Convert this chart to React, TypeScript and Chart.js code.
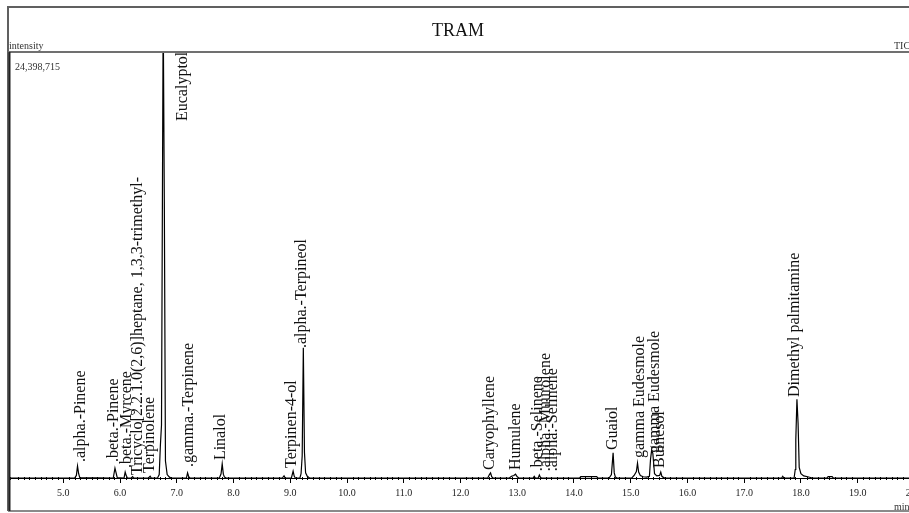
import React, { useEffect, useRef } from "react";
import { Chart, registerables } from "chart.js";

Chart.register(...registerables);

// ---- data (retention time in min, intensity in % of full scale) ----
const chartTitle = "TRAM";
const yAxisName = "intensity";
const traceName = "TIC";
const xUnit = "min";
const fullScaleLabel = "24,398,715";
const xMin = 4.06;
const xMax = 20.24;
const xStep = 0.1;

const retentionTimes = [
  4.06, 5.2, 5.23, 5.25, 5.27, 5.29, 5.88, 5.91, 5.93, 5.95, 6.07, 6.09, 6.11, 6.13, 6.2, 6.22, 6.24,
  6.5, 6.53, 6.55, 6.66, 6.69, 6.71, 6.73, 6.76, 6.78, 6.8, 6.83, 6.87, 6.9, 7.17, 7.19, 7.21, 7.23,
  7.75, 7.78, 7.8, 7.82, 7.84, 7.87, 8.86, 8.89, 8.91, 9.02, 9.05, 9.07, 9.09, 9.17, 9.19, 9.21, 9.23,
  9.25, 9.27, 9.3, 9.34, 12.48, 12.51, 12.53, 12.55, 12.57, 12.86, 12.9, 12.94, 12.97, 13.0, 13.03,
  13.28, 13.3, 13.32, 13.37, 13.39, 13.41, 13.44, 14.1, 14.12, 14.4, 14.42, 14.62, 14.66, 14.69, 14.71,
  14.73, 14.76, 15.02, 15.06, 15.1, 15.12, 15.14, 15.17, 15.22, 15.28, 15.33, 15.35, 15.37, 15.39,
  15.42, 15.46, 15.51, 15.53, 15.55, 15.58, 15.62, 17.66, 17.68, 17.7, 17.88, 17.9, 17.91, 17.93,
  17.95, 17.97, 18.0, 18.05, 18.12, 18.2, 18.46, 18.48, 18.55, 18.57, 20.24,
];
const intensities = [
  0, 0, 0.6, 2.8, 1.0, 0.1, 0, 2.3, 1.2, 0.1, 0, 1.4, 0.5, 0, 0, 0.3, 0,
  0, 0.4, 0, 0, 0.8, 7.5, 12.4, 110, 64.8, 4.0, 0.8, 0.2, 0, 0, 1.2, 0.3, 0,
  0, 1.0, 3.3, 0.9, 0.2, 0, 0, 0.5, 0, 0, 1.6, 0.4, 0, 0, 1.0, 5.2, 30.6,
  6.0, 1.2, 0.4, 0, 0, 0.8, 1.2, 0.3, 0, 0, 0.4, 0.6, 0.9, 0.3, 0,
  0, 0.4, 0, 0, 0.7, 0.1, 0, 0, 0.3, 0.3, 0, 0, 0.8, 5.9, 1.2,
  0.2, 0, 0, 0.6, 1.5, 3.5, 1.4, 0.6, 0.3, 0.2, 0.4, 4.5, 6.6, 5.8,
  1.0, 0.5, 0.6, 1.4, 0.4, 0.1, 0, 0, 0.4, 0, 0, 2.0, 9.0, 18.5,
  12.9, 2.5, 1.0, 0.5, 0.3, 0, 0, 0.3, 0.3, 0, 0,
];

// peak annotations: name, time of text centre line, intensity where the text starts
const peakNames = [
  ".alpha.-Pinene",
  ".beta.-Pinene",
  ".beta.-Myrcene",
  "Tricyclo[2.2.1.0(2,6)]heptane, 1,3,3-trimethyl-",
  "Terpinolene",
  "Eucalyptol",
  ".gamma.-Terpinene",
  "Linalol",
  "Terpinen-4-ol",
  ".alpha.-Terpineol",
  "Caryophyllene",
  "Humulene",
  ".beta.-Selinene",
  ".alpha.-Muurolene",
  ".alpha.-Selinene",
  "Guaiol",
  "gamma Eudesmole",
  "gamma Eudesmole",
  "Bulnesol",
  "Dimethyl palmitamine",
];
const labelTimes = [
  5.303, 5.893, 6.122, 6.307, 6.528, 7.109, 7.215, 7.78, 9.021, 9.197, 12.52, 12.968, 13.357,
  13.5, 13.632, 14.68, 15.153, 15.426, 15.515, 17.89,
];
const labelBases = [
  3.76, 3.76, 2.35, 0.7, 1.17, 83.8, 2.58, 4.2, 2.35, 30.5, 1.88, 1.88, 1.6, 1.6, 1.6, 6.57, 4.69,
  5.87, 2.35, 19.0,
];

const isMajor = (v: number) => Math.abs(v - Math.round(v)) < 0.001;

export default function App() {
  const ref = useRef<HTMLCanvasElement | null>(null);

  useEffect(() => {
    if (!ref.current) return;

    const labelPlugin = {
      id: "peakLabels",
      afterDatasetsDraw(chart: any) {
        const { ctx } = chart;
        const xs = chart.scales.x;
        const ys = chart.scales.y;
        ctx.save();
        ctx.fillStyle = "#111";
        ctx.font = "16px 'Liberation Serif'";
        ctx.textAlign = "left";
        ctx.textBaseline = "middle";
        peakNames.forEach((name, i) => {
          const x = xs.getPixelForValue(labelTimes[i]);
          const y = ys.getPixelForValue(labelBases[i]);
          ctx.save();
          ctx.translate(x, y);
          ctx.rotate(-Math.PI / 2);
          ctx.fillText(name, 0, 0);
          ctx.restore();
        });
        ctx.restore();
      },
    };

    const framePlugin = {
      id: "frame",
      afterDraw(chart: any) {
        const { ctx, chartArea, width, height } = chart;
        const xs = chart.scales.x;
        ctx.save();
        // minor ticks
        ctx.strokeStyle = "#000";
        ctx.lineWidth = 1;
        xs.ticks.forEach((t: any) => {
          if (isMajor(t.value)) return;
          const px = Math.round(xs.getPixelForValue(t.value)) + 0.5;
          ctx.beginPath();
          ctx.moveTo(px, chartArea.bottom - 1);
          ctx.lineTo(px, chartArea.bottom + 2);
          ctx.stroke();
        });
        // frame lines
        ctx.strokeStyle = "#606060";
        ctx.lineWidth = 2;
        ctx.beginPath();
        ctx.moveTo(7, 7);
        ctx.lineTo(width, 7);
        ctx.moveTo(8, 6);
        ctx.lineTo(8, height - 2);
        ctx.stroke();
        ctx.strokeStyle = "#707070";
        ctx.beginPath();
        ctx.moveTo(8, chartArea.top);
        ctx.lineTo(width, chartArea.top);
        ctx.stroke();
        ctx.strokeStyle = "#8a8a8a";
        ctx.beginPath();
        ctx.moveTo(8, height - 2);
        ctx.lineTo(width, height - 2);
        ctx.stroke();
        ctx.strokeStyle = "#222";
        ctx.lineWidth = 2;
        ctx.beginPath();
        ctx.moveTo(chartArea.left - 0.5, chartArea.top);
        ctx.lineTo(chartArea.left - 0.5, height - 2);
        ctx.stroke();
        // texts
        ctx.fillStyle = "#111";
        ctx.textBaseline = "alphabetic";
        ctx.textAlign = "center";
        ctx.font = "18px 'Liberation Serif'";
        ctx.fillText(chartTitle, 458, 36);
        ctx.textAlign = "left";
        ctx.font = "10px 'Liberation Serif'";
        ctx.fillStyle = "#333";
        ctx.fillText(yAxisName, 9, 49);
        ctx.fillText(traceName, 894, 49);
        ctx.fillText(xUnit, 894, 510);
        ctx.font = "10px 'Liberation Serif'";
        ctx.fillText(fullScaleLabel, 15, 70);
        ctx.restore();
      },
    };

    const chart = new Chart(ref.current, {
      type: "line",
      data: {
        datasets: [
          {
            label: traceName,
            data: retentionTimes.map((t, i) => ({ x: t, y: intensities[i] })),
            borderColor: "#000",
            borderWidth: 1.2,
            pointRadius: 0,
            tension: 0,
            fill: false,
            clip: { left: 0, top: 0, right: 0, bottom: 3 } as any,
          },
        ],
      },
      options: {
        responsive: false,
        animation: false,
        layout: { padding: { top: 52, left: 10, right: 12, bottom: 10 } },
        plugins: {
          legend: { display: false },
          tooltip: { enabled: false },
          title: { display: false },
        },
        scales: {
          x: {
            type: "linear",
            min: xMin,
            max: xMax,
            ticks: {
              stepSize: xStep,
              autoSkip: false,
              maxRotation: 0,
              minRotation: 0,
              padding: 4,
              color: "#222",
              font: { family: "'Liberation Serif'", size: 10 },
              callback: (v: any) => (isMajor(Number(v)) ? Number(v).toFixed(1) : ""),
            },
            grid: {
              drawOnChartArea: false,
              drawTicks: true,
              tickLength: 5,
              tickColor: (c: any) =>
                c.tick && isMajor(c.tick.value) ? "#000" : "rgba(0,0,0,0)",
            },
            border: { display: true, color: "#000", width: 1 },
          },
          y: { display: false, min: 0, max: 100 },
        },
      },
      plugins: [labelPlugin, framePlugin],
    });
    return () => chart.destroy();
  }, []);

  return (
    <div
      style={{
        position: "fixed",
        left: 0,
        top: 0,
        width: 909,
        height: 513,
        overflow: "hidden",
        background: "#fff",
      }}
    >
      <canvas ref={ref} width={940} height={513} style={{ width: 940, height: 513, display: "block" }} />
    </div>
  );
}
